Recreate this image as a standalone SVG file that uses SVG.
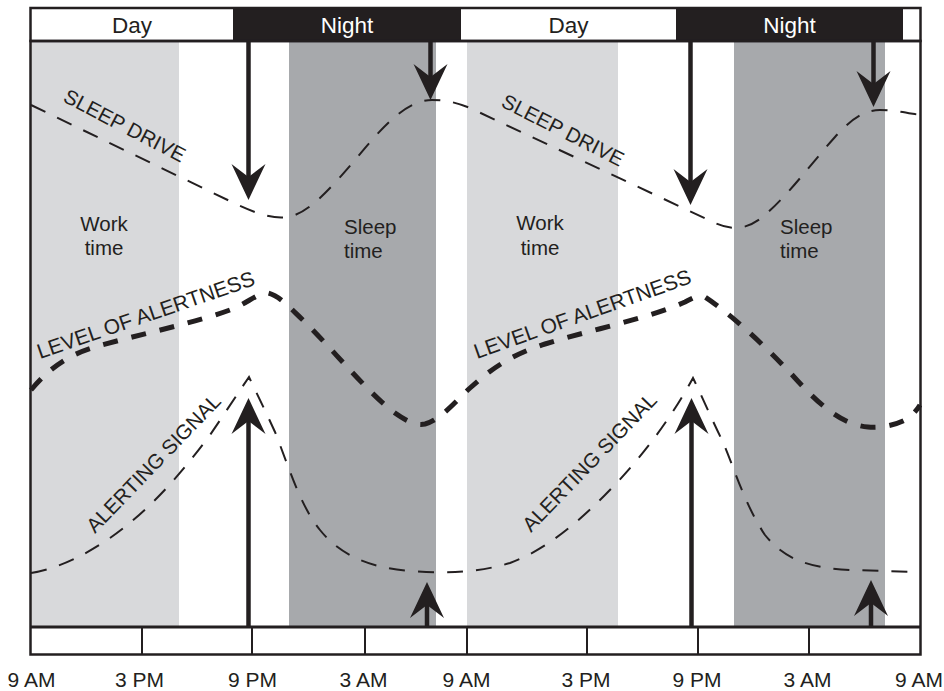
<svg xmlns="http://www.w3.org/2000/svg" width="944" height="691" viewBox="0 0 944 691">
  <style>
    .work { fill: #d8d9db; }
    .sleep { fill: #a7a9ac; }
    .dark { fill: #231f20; }
    .frame { fill: none; stroke: #231f20; stroke-width: 2.5; }
    .tick { stroke: #231f20; stroke-width: 2; }
    .thin { fill: none; stroke: #231f20; stroke-width: 2; stroke-dasharray: 16 13; }
    .thick { fill: none; stroke: #231f20; stroke-width: 5; stroke-dasharray: 15 14; }
    .shaft { stroke: #231f20; stroke-width: 4.5; }
    .head { fill: #231f20; }
    text { font-family: "Liberation Sans", Arial, Helvetica, sans-serif; fill: #231f20; }
    .bar { font-size: 22.5px; text-anchor: middle; }
    .on-dark { fill: #ffffff; }
    .axis { font-size: 21px; text-anchor: middle; }
    .region { font-size: 20.5px; }
    .mid { text-anchor: middle; }
    .curve { font-size: 20.5px; }
  </style>
  <defs>
    <!-- barbed arrowhead, tip at origin, pointing down -->
    <path id="arrowhead" d="M0,0 L-17,-36 L0,-23 L17,-36 Z"/>
  </defs>

  <!-- work and sleep periods -->
  <g id="periods">
    <rect class="work" x="31" y="41" width="148" height="586"/>
    <rect class="sleep" x="289" y="41" width="147" height="586"/>
    <rect class="work" x="467" y="41" width="151" height="586"/>
    <rect class="sleep" x="734" y="41" width="151" height="586"/>
  </g>

  <!-- day / night bar -->
  <g id="day-night-bar">
    <rect x="30.5" y="8" width="890" height="33" fill="#ffffff"/>
    <rect class="dark" x="233" y="8" width="228" height="33"/>
    <rect class="dark" x="676" y="8" width="227" height="33"/>
    <rect class="frame" x="30.5" y="8" width="890" height="33"/>
    <text class="bar" x="132" y="33">Day</text>
    <text class="bar on-dark" x="347" y="33">Night</text>
    <text class="bar" x="568.5" y="33">Day</text>
    <text class="bar on-dark" x="789.5" y="33">Night</text>
  </g>

  <!-- plot frame and time axis -->
  <g id="time-axis">
    <rect class="frame" x="30.5" y="41" width="890" height="613.5"/>
    <line x1="30.5" y1="627" x2="920.5" y2="627" stroke="#231f20" stroke-width="3"/>
    <line class="tick" x1="142" y1="627" x2="142" y2="654"/>
    <line class="tick" x1="252" y1="627" x2="252" y2="654"/>
    <line class="tick" x1="365" y1="627" x2="365" y2="654"/>
    <line class="tick" x1="467" y1="627" x2="467" y2="654"/>
    <line class="tick" x1="587" y1="627" x2="587" y2="654"/>
    <line class="tick" x1="698" y1="627" x2="698" y2="654"/>
    <line class="tick" x1="809" y1="627" x2="809" y2="654"/>
    <text class="axis" x="31.5" y="687">9 AM</text>
    <text class="axis" x="139.5" y="687">3 PM</text>
    <text class="axis" x="252.5" y="687">9 PM</text>
    <text class="axis" x="363.5" y="687">3 AM</text>
    <text class="axis" x="466.5" y="687">9 AM</text>
    <text class="axis" x="586" y="687">3 PM</text>
    <text class="axis" x="697" y="687">9 PM</text>
    <text class="axis" x="807.5" y="687">3 AM</text>
    <text class="axis" x="919" y="687">9 AM</text>
  </g>

  <!-- period labels -->
  <g id="work-time-1">
    <text class="region mid" x="104" y="231">Work</text>
    <text class="region mid" x="104" y="255">time</text>
  </g>
  <g id="sleep-time-1">
    <text class="region" x="344" y="234">Sleep</text>
    <text class="region" x="344" y="258">time</text>
  </g>
  <g id="work-time-2">
    <text class="region mid" x="540" y="230">Work</text>
    <text class="region mid" x="540" y="255">time</text>
  </g>
  <g id="sleep-time-2">
    <text class="region" x="780" y="234">Sleep</text>
    <text class="region" x="780" y="258">time</text>
  </g>

  <!-- sleep drive curve -->
  <g id="sleep-drive">
    <path class="thin" d="M31,105 L238,205 C262,216 280,221 295,215 C315,207 335,183 355,160 C380,130 405,100 432,100 C445,100 455,102 470,108 L715,223 C735,232 750,228 765,215 C790,193 810,165 835,137 C852,118 865,110 880,110 C895,110 908,113 920,115"/>
    <text class="curve" transform="translate(62,101) rotate(27.5)">SLEEP DRIVE</text>
    <text class="curve" transform="translate(500,106) rotate(27)">SLEEP DRIVE</text>
  </g>

  <!-- level of alertness curve -->
  <g id="level-of-alertness">
    <path class="thick" d="M31,390 C48,370 65,356 95,347 C140,334 200,322 235,308 C250,301 260,292 268,293 C280,296 290,308 305,322 C335,352 370,395 395,413 C405,420 415,426 425,424 C440,420 455,402 470,388 C490,370 510,355 545,344 C590,330 650,318 685,302 C695,297 700,294 705,297 C725,310 760,340 795,378 C815,400 840,425 868,427 C882,428 895,425 905,420 C912,416 917,410 920,405"/>
    <text class="curve" style="font-size:21px" transform="translate(40,359) rotate(-19)">LEVEL OF ALERTNESS</text>
    <text class="curve" style="font-size:21px" transform="translate(477,359) rotate(-19.5)">LEVEL OF ALERTNESS</text>
  </g>

  <!-- alerting signal curve -->
  <g id="alerting-signal">
    <path class="thin" d="M31,573 C60,568 85,555 110,538 C150,510 180,475 210,435 C225,413 240,390 249,377 C255,390 265,410 275,432 C290,470 300,505 320,530 C340,555 370,568 410,571 C450,574 480,572 510,563 C545,550 575,525 605,495 C640,460 670,420 693,378 C700,392 712,420 722,440 C735,470 745,505 765,535 C785,560 810,568 850,570 L920,572"/>
    <text class="curve" transform="translate(95,534) rotate(-46)">ALERTING SIGNAL</text>
    <text class="curve" transform="translate(531,533) rotate(-46)">ALERTING SIGNAL</text>
  </g>

  <!-- arrows -->
  <g id="arrows">
    <line class="shaft" x1="248.5" y1="41" x2="248.5" y2="179"/>
    <use href="#arrowhead" class="head" transform="translate(248.5,200)"/>
    <line class="shaft" x1="430.5" y1="41" x2="430.5" y2="79"/>
    <use href="#arrowhead" class="head" transform="translate(430.5,100)"/>
    <line class="shaft" x1="690.5" y1="41" x2="690.5" y2="184"/>
    <use href="#arrowhead" class="head" transform="translate(690.5,205)"/>
    <line class="shaft" x1="873.5" y1="41" x2="873.5" y2="86"/>
    <use href="#arrowhead" class="head" transform="translate(873.5,107)"/>

    <line class="shaft" x1="248.5" y1="627" x2="248.5" y2="419"/>
    <use href="#arrowhead" class="head" transform="translate(248.5,398) rotate(180)"/>
    <line class="shaft" x1="427" y1="627" x2="427" y2="603"/>
    <use href="#arrowhead" class="head" transform="translate(427,582) rotate(180)"/>
    <line class="shaft" x1="691.5" y1="627" x2="691.5" y2="419"/>
    <use href="#arrowhead" class="head" transform="translate(691.5,398) rotate(180)"/>
    <line class="shaft" x1="871" y1="627" x2="871" y2="601"/>
    <use href="#arrowhead" class="head" transform="translate(871,580) rotate(180)"/>
  </g>
</svg>
